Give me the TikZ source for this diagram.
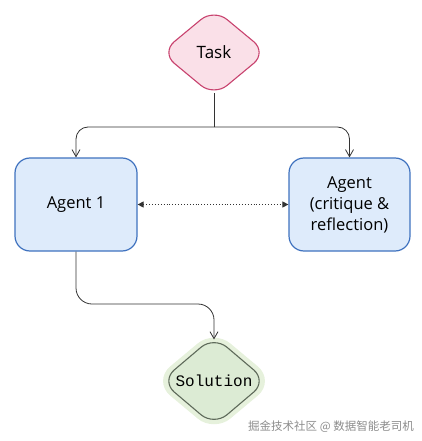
\documentclass[tikz,border=0pt]{standalone}
\usepackage{fontspec}
\setmainfont{Open Sans}
\newfontfamily\monof{Liberation Mono}
\newfontfamily\cjk{Noto Sans CJK SC}
\usetikzlibrary{shapes.geometric,arrows.meta,calc}
\definecolor{taskfill}{HTML}{FAE0E8}
\definecolor{taskdraw}{HTML}{C8426E}
\definecolor{agfill}{HTML}{DEEBFB}
\definecolor{agdraw}{HTML}{3F72BF}
\definecolor{solfill}{HTML}{DCEBD4}
\definecolor{soldraw}{HTML}{5E6A5A}
\definecolor{solglow}{HTML}{E6F1DC}
\definecolor{linec}{HTML}{333333}
\tikzset{
  taskshape/.style={diamond, draw=taskdraw, fill=taskfill, line width=1.1pt, rounded corners=17pt,
    minimum width=106pt, minimum height=88pt, inner sep=0pt, font=\fontsize{17}{20}\selectfont},
  agentbox/.style={draw=agdraw, fill=agfill, line width=1.2pt, rounded corners=15pt,
    minimum width=122pt, minimum height=93pt, inner sep=0pt, align=center, font=\fontsize{16.5}{21}\selectfont},
  solshape/.style={diamond, draw=soldraw, fill=solfill, line width=1.1pt, rounded corners=17pt,
    minimum width=106pt, minimum height=90pt, inner sep=0pt, font=\monof\fontsize{16}{18}\selectfont},
  arr/.style={draw=linec, line width=0.8pt, -{Straight Barb[length=7pt,width=8pt]}},
  dotarr/.style={draw=linec, line width=0.9pt, dotted, {Triangle[length=6pt,width=6pt]}-{Triangle[length=6pt,width=6pt]}},
}
\begin{document}
\begin{tikzpicture}[x=1pt,y=-1pt]
\useasboundingbox (0,0) rectangle (422,441);
\node[taskshape] (task) at (214,52.5) {Task};
\node[agentbox] (a1) at (76,204.5) {Agent 1};
\node[agentbox, minimum width=121pt] (a2) at (349.5,204.5) {Agent\\(critique \&\\reflection)};
\draw[solglow, line width=8pt, rounded corners=18pt] (214,335) -- (269,381) -- (214,427) -- (159,381) -- cycle;
\node[solshape] (sol) at (214,381) {Solution};
\coordinate (split) at (214,127);
\coordinate (mid) at (214,304);
\draw[draw=linec, line width=0.8pt] ($(task.south)+(0,-4)$) -- (split);
\draw[arr, rounded corners=12pt] (split) -| (a1.north);
\draw[arr, rounded corners=12pt] (split) -| (a2.north);
\draw[dotarr] (a1.east) -- (a2.west);
\draw[arr, rounded corners=16pt] (a1.south) |- (mid) -- ($(sol.north)+(0,4)$);
\node[text=black!45, font=\cjk\fontsize{11.5}{13}\selectfont, anchor=center] (wm) at (331,427) {掘金技术社区 @ 数据智能老司机};
\end{tikzpicture}
\end{document}
